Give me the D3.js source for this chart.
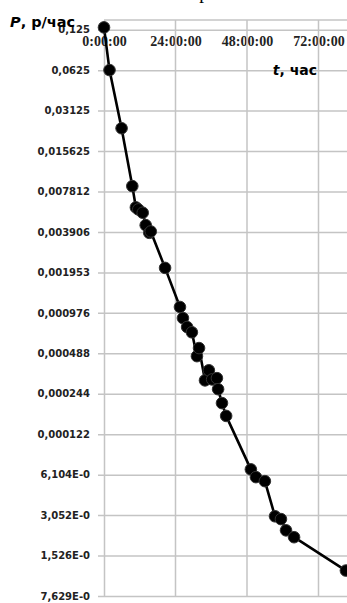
<!DOCTYPE html>
<html>
<head>
<meta charset="utf-8">
<script src="https://cdn.jsdelivr.net/npm/d3@7/dist/d3.min.js"></script>
<style>
  body { margin: 0; background: #fff; }
  svg { display: block; }
</style>
</head>
<body>
<svg></svg>
<script>
// time since start, hours
const hours = [0, 1.85, 5.9, 9.5, 10.7, 11.5, 13.0, 14.0, 15.2, 15.7, 20.5,
  25.5, 26.5, 27.9, 29.5, 31.2, 31.9, 33.9, 35.2, 36.3, 37.9, 38.3, 39.6, 41.0,
  49.3, 51.0, 54.0, 57.4, 59.4, 61.1, 63.8, 81.2];
// dose rate, р/час
const rate = [0.13, 0.0626, 0.0231, 0.00857, 0.00595, 0.00575, 0.00543, 0.00439, 0.00385, 0.00394, 0.00211,
  0.00108, 0.000893, 0.000766, 0.0007, 0.000465, 0.000534, 0.000307, 0.000365, 0.000312, 0.000319, 0.000264, 0.000208, 0.000167,
  0.0000668, 0.0000585, 0.0000546, 0.0000299, 0.0000285, 0.0000235, 0.0000209, 0.0000118];

const xTicks = [0, 24, 48, 72];
const yTicks = [0.125, 0.0625, 0.03125, 0.015625, 0.0078125, 0.00390625, 0.001953125,
  0.0009765625, 0.00048828125, 0.000244140625, 0.0001220703125,
  0.00006103515625, 0.000030517578125, 0.0000152587890625, 0.00000762939453125];
const yLabels = ["0,125", "0,0625", "0,03125", "0,015625", "0,007812", "0,003906", "0,001953",
  "0,000976", "0,000488", "0,000244", "0,000122", "6,104E-0", "3,052E-0", "1,526E-0", "7,629E-0"];

const W = 347, H = 603;
const plot = {left: 104, right: 390, top: 20, bottom: 596};

const svg = d3.select("svg").attr("width", W).attr("height", H);

const x = d3.scaleLinear().domain([0, 96]).range([plot.left, plot.right]);
// 0.125 sits ~10px below the plot top
const y = d3.scaleLog().base(2)
  .domain([yTicks[yTicks.length - 1], 0.125 * Math.pow(2, 9.7 / 40.43)])
  .range([plot.bottom, plot.top]);

const grid = "#c4c4c4";

// cut-off title
svg.append("text")
  .attr("x", 204).attr("y", -1.5)
  .attr("text-anchor", "middle")
  .style("font", "19px 'Liberation Serif'")
  .text("р");

// top border
svg.append("line")
  .attr("x1", plot.left).attr("x2", plot.right)
  .attr("y1", plot.top).attr("y2", plot.top)
  .attr("stroke", grid).attr("stroke-width", 1.5);

// horizontal grid + y labels
const gy = svg.append("g")
  .attr("transform", "translate(" + plot.left + ",0)")
  .call(d3.axisLeft(y).tickValues(yTicks)
    .tickSize(-(plot.right - plot.left)).tickSizeOuter(0)
    .tickPadding(14)
    .tickFormat((d, i) => yLabels[i]));
gy.select(".domain").attr("stroke", grid).attr("stroke-width", 1.5);
gy.selectAll(".tick line").attr("stroke", grid).attr("stroke-width", 1.5)
  .attr("x1", -6);
gy.selectAll(".tick text")
  .attr("fill", "#222")
  .style("font", "bold 10px 'DejaVu Sans'");

// vertical grid + x labels under the 0.125 line
const gx = svg.append("g")
  .attr("transform", "translate(0," + y(0.125) + ")")
  .call(d3.axisBottom(x).tickValues(xTicks)
    .tickSize(0).tickPadding(6)
    .tickFormat(d => d + ":00:00"));
gx.select(".domain").remove();
gx.selectAll(".tick text")
  .attr("fill", "#222")
  .style("font", "bold 14px 'Liberation Serif'");

svg.append("g").selectAll("line")
  .data(xTicks.slice(1))
  .enter().append("line")
    .attr("x1", d => x(d)).attr("x2", d => x(d))
    .attr("y1", plot.top).attr("y2", plot.bottom)
    .attr("stroke", grid).attr("stroke-width", 1.5);

// axis titles
const pt = svg.append("text")
  .attr("x", 10).attr("y", 27)
  .style("font", "bold 14.5px 'DejaVu Sans'");
pt.append("tspan").style("font-style", "italic").text("P");
pt.append("tspan").text(", р/час");

const tt = svg.append("text")
  .attr("x", 317).attr("y", 75)
  .attr("text-anchor", "end")
  .style("font", "bold 14px 'DejaVu Sans'");
tt.append("tspan").style("font-style", "italic").text("t");
tt.append("tspan").text(", час");

// series
const pts = hours.map((h, i) => ({t: h, p: rate[i]}));

svg.append("path")
  .datum(pts)
  .attr("fill", "none")
  .attr("stroke", "#000")
  .attr("stroke-width", 2.6)
  .attr("stroke-linejoin", "round")
  .attr("d", d3.line().x(d => x(d.t)).y(d => y(d.p)));

svg.append("g").selectAll("circle")
  .data(pts)
  .enter().append("circle")
    .attr("cx", d => x(d.t))
    .attr("cy", d => y(d.p))
    .attr("r", 5.8)
    .attr("fill", "#000")
    .attr("stroke", "#333")
    .attr("stroke-width", 1);
</script>
</body>
</html>
